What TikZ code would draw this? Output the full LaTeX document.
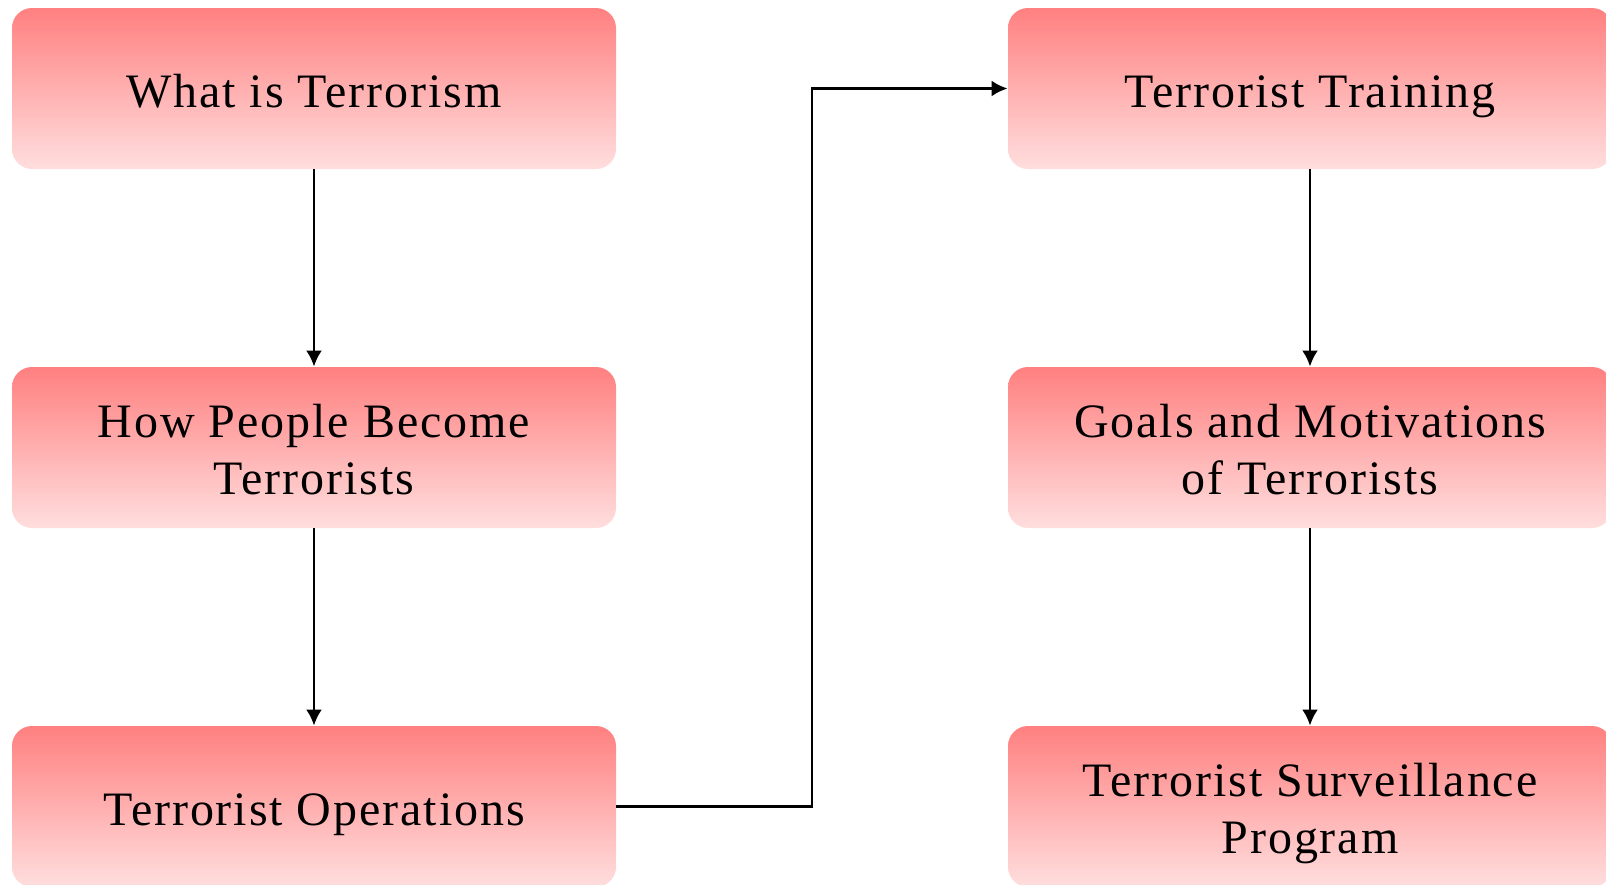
\documentclass[tikz,border=0pt]{standalone}
\usepackage{fontspec}
\setmainfont{Liberation Serif}[LetterSpace=4]
\usetikzlibrary{arrows.meta,calc}
\definecolor{boxtop}{RGB}{255,128,128}
\definecolor{boxbot}{RGB}{255,222,222}
\tikzset{
  topic/.style={rounded corners=10pt, top color=boxtop, bottom color=boxbot, draw=none,
    minimum width=302pt, minimum height=80.5pt, inner sep=0pt, align=center,
    text height=23pt, text depth=4.5pt,
    font=\fontsize{24}{28.5}\selectfont, text=black},
  twoline/.style={topic, text height=51.5pt},
  link/.style={line width=1.4pt, -{Latex[length=8pt,width=8pt]}},
}
\begin{document}
\begin{tikzpicture}[x=0.5pt,y=-0.5pt]
\useasboundingbox (0,0) rectangle (1606,884);
\clip (0,0) rectangle (1606,884);
\node[topic] (a) at (314,88.5) {What is Terrorism};
\node[twoline] (b) at (314,447.5) {How People Become\\Terrorists};
\node[topic] (c) at (314,806.5) {Terrorist Operations};
\node[topic] (d) at (1310,88.5) {Terrorist Training};
\node[twoline] (e) at (1310,447.5) {Goals and Motivations\\of Terrorists};
\node[twoline] (f) at (1310,806.5) {Terrorist Surveillance\\Program};
\draw[link] (a) -- (b);
\draw[link] (b) -- (c);
\draw[link] (d) -- (e);
\draw[link] (e) -- (f);
\coordinate (m) at ($(c.east)!0.5!(d.west)$);
\draw[link] (c.east) -| (m) |- (d.west);
\end{tikzpicture}
\end{document}
